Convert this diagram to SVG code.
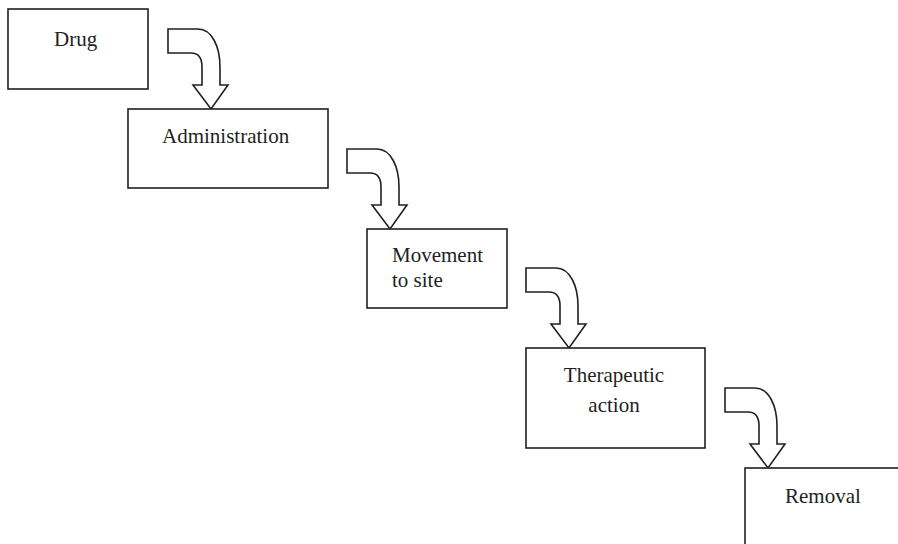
<svg xmlns="http://www.w3.org/2000/svg" width="898" height="544" viewBox="0 0 898 544">
<defs>
<style>
.box{fill:#fff;stroke:#231f20;stroke-width:1.6}
.arr{fill:#fff;stroke:#231f20;stroke-width:1.6;stroke-linejoin:miter}
text{font-family:"Liberation Serif","Times New Roman",serif;font-size:21px;fill:#231f20}
</style>
<path id="bend" d="M0,0 L30,0 C44,0 52,18 52,38 L52,56 L60,56 L43,80 L25,56 L34,56 L34,38 C34,30 31,24 23,24 L0,24 Z"/>
</defs>
<rect width="898" height="544" fill="#fff"/>
<g id="connectors">
<use href="#bend" class="arr" x="168" y="29"/>
<use href="#bend" class="arr" x="347" y="149"/>
<use href="#bend" class="arr" x="526" y="268"/>
<use href="#bend" class="arr" x="725" y="388"/>
</g>
<g id="drug">
<rect class="box" x="8" y="9" width="140" height="80"/>
<text x="54" y="46">Drug</text>
</g>
<g id="administration">
<rect class="box" x="128" y="109" width="200" height="79"/>
<text x="162" y="143">Administration</text>
</g>
<g id="movement">
<rect class="box" x="367" y="229" width="140" height="79"/>
<text x="392" y="262">Movement</text>
<text x="392" y="287">to site</text>
</g>
<g id="therapeutic">
<rect class="box" x="526" y="348" width="179" height="100"/>
<text x="614" y="382" text-anchor="middle">Therapeutic</text>
<text x="614" y="412" text-anchor="middle">action</text>
</g>
<g id="removal">
<rect class="box" x="745" y="468" width="170" height="90"/>
<text x="785" y="503">Removal</text>
</g>
</svg>
